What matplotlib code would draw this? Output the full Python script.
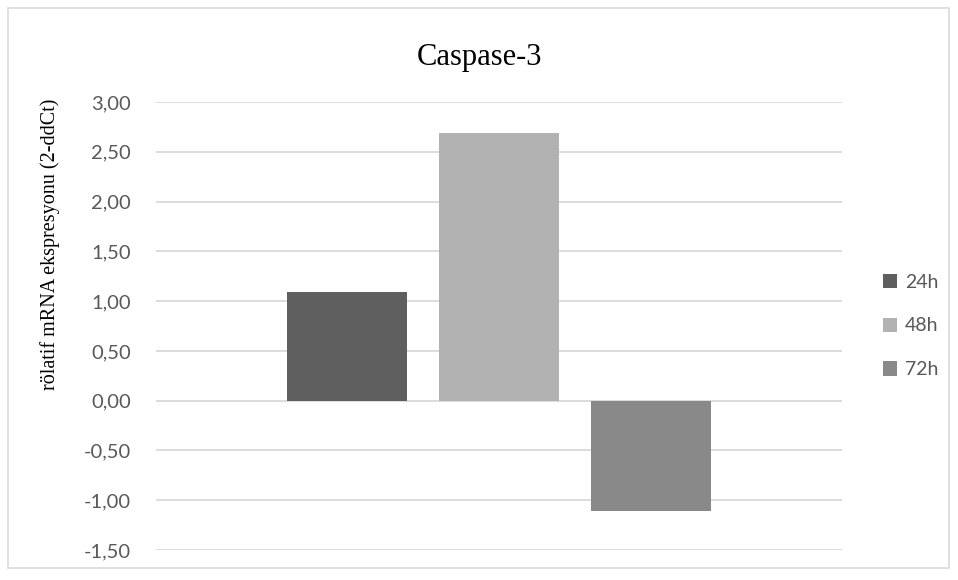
import matplotlib
matplotlib.use("Agg")
import matplotlib.pyplot as plt
import matplotlib.patches as patches
from matplotlib.ticker import FuncFormatter, MultipleLocator

# Caspase-3 relative expression, one bar per time point
series = ["24h", "48h", "72h"]
values = [1.09, 2.69, -1.11]
colors = ["#5f5f5f", "#b2b2b2", "#898989"]

title = "Caspase-3"
ylabel = "rölatif mRNA ekspresyonu (2-ddCt)"

W, H = 958, 580
fig = plt.figure(figsize=(W / 100, H / 100), dpi=100)

# plot area in pixels: left 156, right 842, top 102, bottom 550
ax = fig.add_axes([156 / W, 1 - 550 / H, (842 - 156) / W, (550 - 102) / H])

bar_w = 120 / 686
step = 152 / 686
for i, (name, v, c) in enumerate(zip(series, values, colors)):
    ax.bar((i - 1) * step, v, width=bar_w, color=c, label=name, zorder=3)

ax.set_xlim(-0.5, 0.5)
ax.set_ylim(-1.5, 3.0)
ax.yaxis.set_major_locator(MultipleLocator(0.5))
ax.yaxis.set_major_formatter(FuncFormatter(lambda v, p: f"{v:.2f}".replace(".", ",")))
ax.set_xticks([])
ax.grid(axis="y", color="#d9d9d9", linewidth=1.3, zorder=0)
for s in ax.spines.values():
    s.set_visible(False)
ax.tick_params(axis="y", length=0, pad=28 - 10, labelsize=14.5, labelcolor="#595959")
for lab in ax.get_yticklabels():
    lab.set_family("Lato")

fig.text(480 / W, 1 - 57 / H, title, ha="center", va="center",
         family="Liberation Serif", fontsize=22)
fig.text(50 / W, 1 - 244 / H, ylabel, ha="center", va="center", rotation=90,
         family="Liberation Serif", fontsize=14.5)

leg = fig.legend(loc="center left", bbox_to_anchor=(865 / W, 1 - 326 / H),
                 frameon=False, handlelength=0.75, handleheight=0.75,
                 handletextpad=0.4, labelspacing=1.38,
                 prop={"family": "Lato", "size": 14})
for t in leg.get_texts():
    t.set_color("#595959")

# chart border
fig.patches.append(patches.Rectangle((8 / W, 1 - 568 / H), 941 / W, 560 / H,
                                     transform=fig.transFigure, fill=False,
                                     edgecolor="#d9d9d9", linewidth=1.2))

fig.savefig("out.png", dpi=100)
